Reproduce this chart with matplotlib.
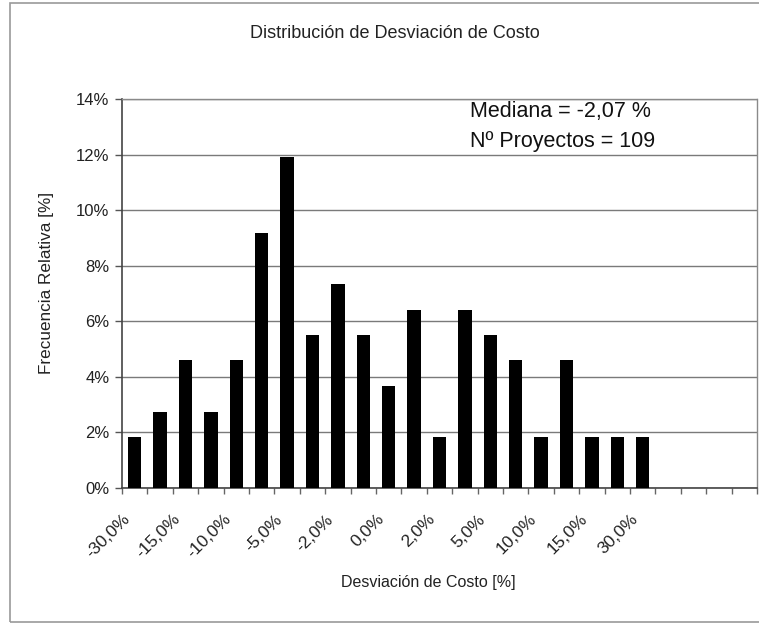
import matplotlib
matplotlib.use("Agg")
import matplotlib.pyplot as plt
from matplotlib.patches import Rectangle
from matplotlib.ticker import FuncFormatter, FixedLocator
import numpy as np

# Relative frequency per cost-deviation bin (%), 25 bins (last four empty)
frecuencia = [1.83, 2.75, 4.59, 2.75, 4.59, 9.17, 11.93, 5.50, 7.34, 5.50,
              3.67, 6.42, 1.83, 6.42, 5.50, 4.59, 1.83, 4.59, 1.83, 1.83,
              1.83, 0.0, 0.0, 0.0, 0.0]
# Labels shown on every other bin
etiquetas = ["-30,0%", "-15,0%", "-10,0%", "-5,0%", "-2,0%", "0,0%",
             "2,0%", "5,0%", "10,0%", "15,0%", "30,0%", "", ""]
y_ticks = [0, 2, 4, 6, 8, 10, 12, 14]

plt.rcParams["font.family"] = ["Liberation Sans", "DejaVu Sans"]

W, H = 759, 624
fig = plt.figure(figsize=(W / 100, H / 100), dpi=100)

# chart-area frame
fig.patches.append(Rectangle((10 / W, 1 - 622 / H), 1.0, (622 - 3) / H,
                             transform=fig.transFigure, fill=False,
                             edgecolor="#9a9a9a", linewidth=1.2))

L, R, T, B = 122, 757, 99, 488
ax = fig.add_axes([L / W, 1 - B / H, (R - L) / W, (B - T) / H])

n = len(frecuencia)
x = np.arange(n)
ax.bar(x, frecuencia, width=0.52, color="black", zorder=3)

ax.set_xlim(-0.5, n - 0.5)
ax.set_ylim(0, 14)

ax.set_yticks(y_ticks)
ax.yaxis.set_major_formatter(FuncFormatter(lambda v, p: f"{v:.0f}%"))
ax.yaxis.grid(True, color="#7a7a7a", linewidth=1.0, zorder=0)
ax.tick_params(axis="y", direction="out", length=5, width=1, color="#555555",
               labelsize=12, pad=4, labelcolor="#222222")

# bin boundaries as minor ticks; rotated labels hang from the left edge of
# every other bin
ax.xaxis.remove_overlapping_locs = False
ax.xaxis.set_minor_locator(FixedLocator(np.arange(-0.5, n, 1.0)))
ax.set_xticks(x[::2] - 0.5)
ax.set_xticklabels(etiquetas, rotation=45, ha="right", va="top",
                   rotation_mode="anchor", fontsize=12.5, color="#222222")
ax.tick_params(axis="x", which="major", length=0, pad=17)
ax.tick_params(axis="x", which="minor", direction="out", length=4, width=1,
               color="#666666")

for s in ("top", "right"):
    ax.spines[s].set_color("#8a8a8a")
    ax.spines[s].set_linestyle((0, (1, 1)))
    ax.spines[s].set_linewidth(1.0)
ax.spines["left"].set_color("#444444")
ax.spines["bottom"].set_color("#444444")
ax.spines["left"].set_linewidth(1.2)
ax.spines["bottom"].set_linewidth(1.2)

fig.text(395 / W, 1 - 33 / H, "Distribución de Desviación de Costo",
         ha="center", va="center", fontsize=13, color="#222222")
fig.text(47 / W, 1 - 283 / H, "Frecuencia Relativa [%]", rotation=90,
         ha="center", va="center", fontsize=12.3, color="#222222")
fig.text(428 / W, 1 - 582 / H, "Desviación de Costo [%]",
         ha="center", va="center", fontsize=11.5, color="#222222")

fig.text(470 / W, 1 - 112 / H, "Mediana = -2,07 %", ha="left", va="center",
         fontsize=15.5, color="#111111")
fig.text(470 / W, 1 - 141 / H, "Nº Proyectos = 109", ha="left", va="center",
         fontsize=15.5, color="#111111")

fig.savefig("out.png", dpi=100)
